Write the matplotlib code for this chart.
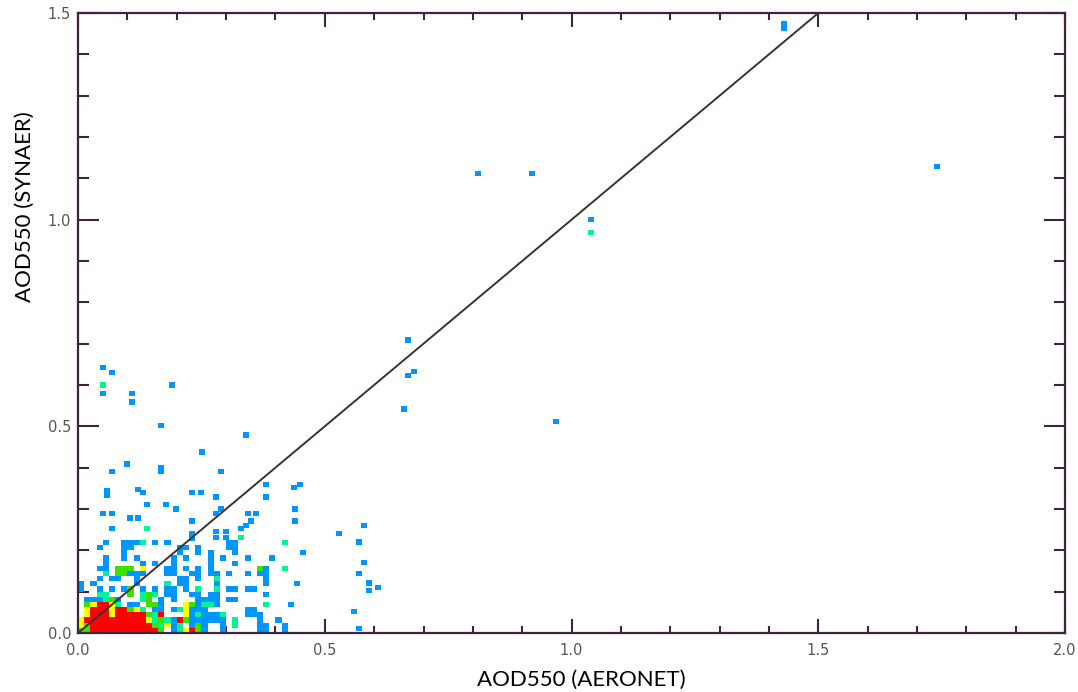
"""AOD550 density scatter: SYNAER vs AERONET."""

import matplotlib.pyplot as plt
from matplotlib.ticker import MultipleLocator, FormatStrFormatter

# density class colours: 1 (single) -> 5 (densest)
level_colors = {"b": "#0096ff", "c": "#00f59a", "g": "#3ee000",
                "y": "#ffff00", "r": "#ff0000"}

# binned core of the scatter, x 0-0.5 and y 0-0.225, bin 0.0125
bin_size = 0.0125
core_rows = [  # top row first (y 0.2125-0.225) down to y 0
    "....b..bbbc.b.b.........bb.......c......",
    "...b...bb.......bb.b....bb..............",
    ".......b........b..b.b...b..........b...",
    "....b..b.b.....b.b...b.b...b...b........",
    "....b.....b.b..b.....b...b..............",
    "...bb.ggg.y...bb.b.b.b.......gb..c......",
    "....c.ggbbb...bb..bb.bb.b..b.bb.........",
    "...b.bb..b......bb.b..c.......b.........",
    "b.b......b....c.bb....b.......b....b....",
    "b..b.b.bg.b.b.bb.b.c..c.bb.bb...........",
    "...cc...g.cgc.bb..bb.bb.......b.........",
    ".bbbcgb...cg.b.b...bbbb.bb..............",
    ".gyrryc.bb.ggb...ygbccb.......c...b.....",
    ".yrrryrrgyc.bb.bcybbb......bb...........",
    ".yrrryrrrrrgcr...ybcbbbc...bbb..........",
    "yrrrrrrrrrrycgcbrgbbbbbb.c...b..b.......",
    "ygrrrrrrrrrrgcybc.bgb..b.c...bb..b......",
    "ggrrrrrrrrrrrg.bcyrgb..b.....bb..b......",
]

# scattered single cells outside the core
blue_x = [0.051, 0.069, 0.19, 0.051, 0.11, 0.11, 0.168, 0.34,
          0.251, 0.10, 0.069, 0.168, 0.168, 0.121, 0.131, 0.059, 0.059,
          0.231, 0.249, 0.14, 0.178, 0.199, 0.051, 0.069, 0.105, 0.121,
          0.231, 0.069, 0.231, 0.231,
          0.29, 0.28, 0.381, 0.381, 0.438, 0.45, 0.44, 0.44, 0.29, 0.28,
          0.345, 0.36, 0.35, 0.34, 0.33, 0.28, 0.28, 0.30, 0.30,
          0.58, 0.529, 0.57, 0.58, 0.57, 0.59, 0.608, 0.59, 0.56, 0.57,
          0.66, 0.669, 0.68, 0.669, 0.969, 1.04, 0.81, 0.92, 1.74, 1.43, 1.43]
blue_y = [0.642, 0.630, 0.60, 0.579, 0.579, 0.559, 0.501, 0.479,
          0.438, 0.409, 0.39, 0.39, 0.40, 0.348, 0.339, 0.334, 0.345,
          0.339, 0.339, 0.31, 0.31, 0.30, 0.29, 0.29, 0.278, 0.278,
          0.271, 0.252, 0.228, 0.24,
          0.39, 0.329, 0.36, 0.329, 0.351, 0.36, 0.30, 0.271, 0.30, 0.29,
          0.29, 0.29, 0.271, 0.261, 0.252, 0.232, 0.245, 0.232, 0.245,
          0.261, 0.24, 0.22, 0.17, 0.143, 0.121, 0.111, 0.102, 0.051, 0.01,
          0.542, 0.622, 0.632, 0.709, 0.511, 1.0, 1.111, 1.111, 1.128, 1.462, 1.475]
mint_x = [0.051, 0.14, 0.33, 1.04]
mint_y = [0.60, 0.252, 0.23, 0.969]

one_to_one = [0.0, 1.5]

fig = plt.figure(figsize=(10.78, 6.92), dpi=100)
ax = fig.add_axes([0.0724, 0.0853, 0.9156, 0.8959])

# core grid cells
for j, row in enumerate(reversed(core_rows)):
    for i, ch in enumerate(row):
        if ch == ".":
            continue
        ax.bar((i + 0.5) * bin_size, bin_size, width=bin_size,
               bottom=j * bin_size, color=level_colors[ch], linewidth=0,
               zorder=2)

ax.bar(blue_x, bin_size, width=bin_size,
       bottom=[v - bin_size / 2 for v in blue_y],
       color=level_colors["b"], linewidth=0, zorder=2)
ax.bar(mint_x, bin_size, width=bin_size,
       bottom=[v - bin_size / 2 for v in mint_y],
       color=level_colors["c"], linewidth=0, zorder=2)

ax.plot(one_to_one, one_to_one, color="#3a3035", lw=1.4, zorder=3)

ax.set_xlim(0, 2.0)
ax.set_ylim(0, 1.5)

frame = "#3f2340"
for s in ax.spines.values():
    s.set_color(frame)
    s.set_linewidth(1.6)

ax.xaxis.set_major_locator(MultipleLocator(0.5))
ax.xaxis.set_minor_locator(MultipleLocator(0.1))
ax.yaxis.set_major_locator(MultipleLocator(0.5))
ax.yaxis.set_minor_locator(MultipleLocator(0.1))
ax.xaxis.set_major_formatter(FormatStrFormatter("%.1f"))
ax.yaxis.set_major_formatter(FormatStrFormatter("%.1f"))

ax.tick_params(axis="both", which="both", direction="in", top=True,
               right=True, color=frame, width=1.5, labelcolor="#555555",
               labelsize=10.5)
ax.tick_params(axis="x", which="major", length=10, pad=7)
ax.tick_params(axis="x", which="minor", length=5)
ax.tick_params(axis="y", which="major", length=15, pad=5)
ax.tick_params(axis="y", which="minor", length=8)

fig.text(581 / 1078, 1 - 680 / 692, "AOD550 (AERONET)", ha="center",
         va="center", fontsize=16, family="Lato")
fig.text(25 / 1078, 1 - 207 / 692, "AOD550 (SYNAER)", ha="center",
         va="center", rotation=90, fontsize=16, family="Lato")

fig.savefig("out.png", dpi=100)
